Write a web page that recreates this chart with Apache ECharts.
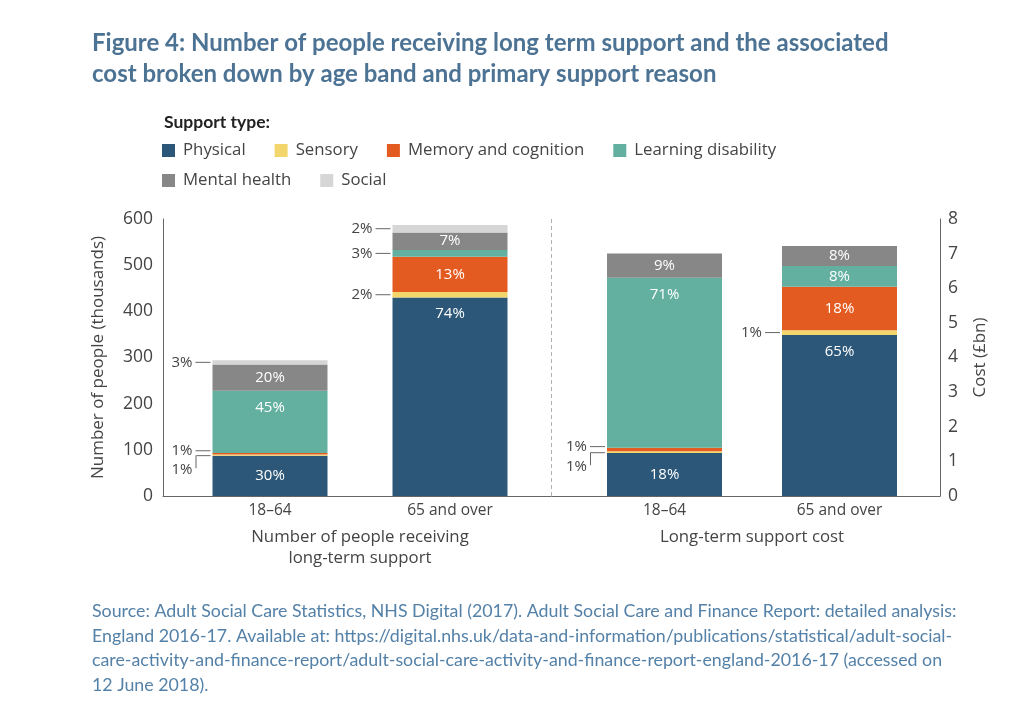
<!DOCTYPE html>
<html><head><meta charset="utf-8">
<script src="https://cdn.jsdelivr.net/npm/echarts@6/dist/echarts.min.js"></script>
<style>html,body{margin:0;padding:0;background:#fff}#c{width:1025px;height:704px}</style>
</head><body><div id="c"></div>
<script>
// ---------- data ----------
const categories = ['18–64', '65 and over'];
const seriesNames = ['Physical', 'Sensory', 'Memory and cognition', 'Learning disability', 'Mental health', 'Social'];

// Number of people receiving long-term support (thousands)
const peoplePhysical = [87, 430];
const peopleSensory  = [3, 12];
const peopleMemory   = [3, 76];
const peopleLearning = [135, 15];
const peopleMental   = [57, 38];
const peopleSocial   = [9, 16];
const peoplePhysicalPct = ['30%', '74%'];
const peopleSensoryPct  = ['1%', '2%'];
const peopleMemoryPct   = ['1%', '13%'];
const peopleLearningPct = ['45%', '3%'];
const peopleMentalPct   = ['20%', '7%'];
const peopleSocialPct   = ['3%', '2%'];

// Long-term support cost (£bn)
const costPhysical = [1.24, 4.65];
const costSensory  = [0.05, 0.14];
const costMemory   = [0.10, 1.25];
const costLearning = [4.91, 0.60];
const costMental   = [0.70, 0.58];
const costSocial   = [0, 0];
const costPhysicalPct = ['18%', '65%'];
const costSensoryPct  = ['1%', '1%'];
const costMemoryPct   = ['1%', '18%'];
const costLearningPct = ['71%', '8%'];
const costMentalPct   = ['9%', '8%'];
const costSocialPct   = ['', ''];

const peopleAxisMax = 600, peopleAxisStep = 100;
const costAxisMax = 8, costAxisStep = 1;

const titleText = 'Figure 4: Number of people receiving long term support and the associated\ncost broken down by age band and primary support reason';
const legendTitle = 'Support type:';
const peopleAxisName = 'Number of people (thousands)';
const costAxisName = 'Cost (£bn)';
const peopleGroupName = 'Number of people receiving\nlong-term support';
const costGroupName = 'Long-term support cost';
const sourceText = 'Source: Adult Social Care Statistics, NHS Digital (2017). Adult Social Care and Finance Report: detailed analysis:\nEngland 2016-17. Available at: https://digital.nhs.uk/data-and-information/publications/statistical/adult-social-\ncare-activity-and-finance-report/adult-social-care-activity-and-finance-report-england-2016-17 (accessed on\n12 June 2018).';

// ---------- styles ----------
const colors = ['#2c5778', '#f2d56b', '#e45b22', '#63b0a1', '#878787', '#d6d6d6'];
const FONT = '"Open Sans", Lato, sans-serif';
const TFONT = 'Lato, "Open Sans", sans-serif';
const TXT = '#444';
const LINE = '#666';

function labelFor(k, i, vals, pcts) {
  const total = vals.reduce((s, a) => s + a[i], 0);
  const v = vals[k][i];
  const text = pcts[k][i];
  if (!text || !v) return { show: false };
  const share = v / total;
  if (share < 0.04) {
    const elbow = (k === 1) && (vals[2][i] / total < 0.04);
    const stacked = (k === 2) && (vals[1][i] / total < 0.04);
    if (elbow) {
      return {
        show: true, position: 'left', distance: 2, offset: [0, 11],
        formatter: '{t|' + text + '}{g|}{v|}{h|}',
        rich: {
          t: { fontFamily: FONT, fontSize: 15, color: TXT, lineHeight: 22, verticalAlign: 'top', padding: [7, 0, 0, 0] },
          g: { width: 3, height: 1, verticalAlign: 'top' },
          v: { width: 1, height: 13, backgroundColor: LINE, verticalAlign: 'top' },
          h: { width: 14, height: 1, backgroundColor: LINE, verticalAlign: 'top' }
        }
      };
    }
    return {
      show: true, position: 'left', distance: 2, offset: [0, stacked ? -3 : 0],
      formatter: '{t|' + text + '}{g|}{l|}',
      rich: {
        t: { fontFamily: FONT, fontSize: 15, color: TXT },
        g: { width: 3 },
        l: { width: 15, height: 1, backgroundColor: LINE }
      }
    };
  }
  return {
    show: true,
    position: share > 0.4 ? 'insideTop' : 'inside',
    distance: 9,
    formatter: text,
    color: '#fff', fontFamily: FONT, fontSize: 15
  };
}

function buildSeries(vals, pcts, xIdx, yIdx, stack) {
  return seriesNames.map((name, k) => ({
    name, type: 'bar', stack, xAxisIndex: xIdx, yAxisIndex: yIdx,
    barWidth: 115,
    itemStyle: { color: colors[k] },
    emphasis: { disabled: true },
    data: vals[k].map((v, i) => ({ value: v, label: labelFor(k, i, vals, pcts) }))
  }));
}

const peopleVals = [peoplePhysical, peopleSensory, peopleMemory, peopleLearning, peopleMental, peopleSocial];
const peoplePcts = [peoplePhysicalPct, peopleSensoryPct, peopleMemoryPct, peopleLearningPct, peopleMentalPct, peopleSocialPct];
const costVals = [costPhysical, costSensory, costMemory, costLearning, costMental, costSocial];
const costPcts = [costPhysicalPct, costSensoryPct, costMemoryPct, costLearningPct, costMentalPct, costSocialPct];

const TOP = 219, BOTTOM = 208;

const option = {
  animation: false,
  backgroundColor: '#fff',
  textStyle: { fontFamily: FONT },
  title: [
    { text: titleText, left: 92, top: 28, padding: 0,
      textStyle: { fontFamily: TFONT, fontSize: 24, fontWeight: 'bold', color: '#4d7394', lineHeight: 31 } },
    { text: legendTitle, left: 164, top: 113, padding: 0,
      textStyle: { fontFamily: TFONT, fontSize: 17.5, fontWeight: 'bold', color: '#222' } },
    { text: sourceText, left: 92, top: 599, padding: 0,
      textStyle: { fontFamily: TFONT, fontSize: 17.8, fontWeight: 'normal', color: '#5481a8', lineHeight: 24.7 } }
  ],
  legend: [
    { data: seriesNames.slice(0, 4), left: 162, top: 142, padding: 0, icon: 'rect',
      itemWidth: 13, itemHeight: 13, itemGap: 29, selectedMode: false,
      textStyle: { fontFamily: FONT, fontSize: 16.8, color: TXT, padding: [0, 0, 0, 3] } },
    { data: seriesNames.slice(4), left: 162, top: 172, padding: 0, icon: 'rect',
      itemWidth: 13, itemHeight: 13, itemGap: 29, selectedMode: false,
      textStyle: { fontFamily: FONT, fontSize: 16.8, color: TXT, padding: [0, 0, 0, 3] } }
  ],
  grid: [
    { left: 163, right: 85, top: TOP, bottom: BOTTOM, containLabel: false, outerBoundsMode: 'none' },
    { left: 180, right: 485, top: TOP, bottom: BOTTOM, containLabel: false, outerBoundsMode: 'none' },
    { left: 577, right: 98, top: TOP, bottom: BOTTOM, containLabel: false, outerBoundsMode: 'none' }
  ],
  xAxis: [
    { gridIndex: 0, type: 'category', data: ['', ''],
      axisLine: { show: true, lineStyle: { color: LINE, width: 1 } },
      axisTick: { show: false }, axisLabel: { show: false },
      splitLine: { show: true, lineStyle: { color: '#b0b0b0', type: [4, 3], width: 1 } } },
    { gridIndex: 1, type: 'category', data: categories,
      axisLine: { show: false }, axisTick: { show: false },
      axisLabel: { fontFamily: FONT, fontSize: 15.5, color: TXT, margin: 7 },
      name: peopleGroupName, nameLocation: 'middle', nameGap: 31,
      nameTextStyle: { fontFamily: FONT, fontSize: 16.8, color: TXT, lineHeight: 21, verticalAlign: 'top' } },
    { gridIndex: 2, type: 'category', data: categories,
      axisLine: { show: false }, axisTick: { show: false },
      axisLabel: { fontFamily: FONT, fontSize: 15.5, color: TXT, margin: 7 },
      name: costGroupName, nameLocation: 'middle', nameGap: 31,
      nameTextStyle: { fontFamily: FONT, fontSize: 16.8, color: TXT, lineHeight: 21, verticalAlign: 'top' } }
  ],
  yAxis: [
    { gridIndex: 0, type: 'value', position: 'left', min: 0, max: peopleAxisMax, interval: peopleAxisStep,
      axisLine: { show: true, lineStyle: { color: LINE, width: 1 } }, axisTick: { show: false },
      splitLine: { show: false },
      axisLabel: { fontFamily: FONT, fontSize: 17.5, color: TXT, margin: 10 },
      name: peopleAxisName, nameLocation: 'middle', nameGap: 56, nameRotate: 90,
      nameTextStyle: { fontFamily: FONT, fontSize: 17, color: TXT } },
    { gridIndex: 0, type: 'value', position: 'right', min: 0, max: costAxisMax, interval: costAxisStep,
      axisLine: { show: true, lineStyle: { color: LINE, width: 1 } }, axisTick: { show: false },
      splitLine: { show: false },
      axisLabel: { fontFamily: FONT, fontSize: 17.5, color: TXT, margin: 8 },
      name: costAxisName, nameLocation: 'middle', nameGap: 32, nameRotate: 90,
      nameTextStyle: { fontFamily: FONT, fontSize: 17, color: TXT } },
    { gridIndex: 1, type: 'value', min: 0, max: peopleAxisMax, show: false, splitLine: { show: false } },
    { gridIndex: 2, type: 'value', min: 0, max: costAxisMax, show: false, splitLine: { show: false } }
  ],
  series: [
    ...buildSeries(peopleVals, peoplePcts, 1, 2, 'people'),
    ...buildSeries(costVals, costPcts, 2, 3, 'cost')
  ]
};

const chart = echarts.init(document.getElementById('c'), null, { renderer: 'canvas' });
chart.setOption(option);
</script>
</body></html>
